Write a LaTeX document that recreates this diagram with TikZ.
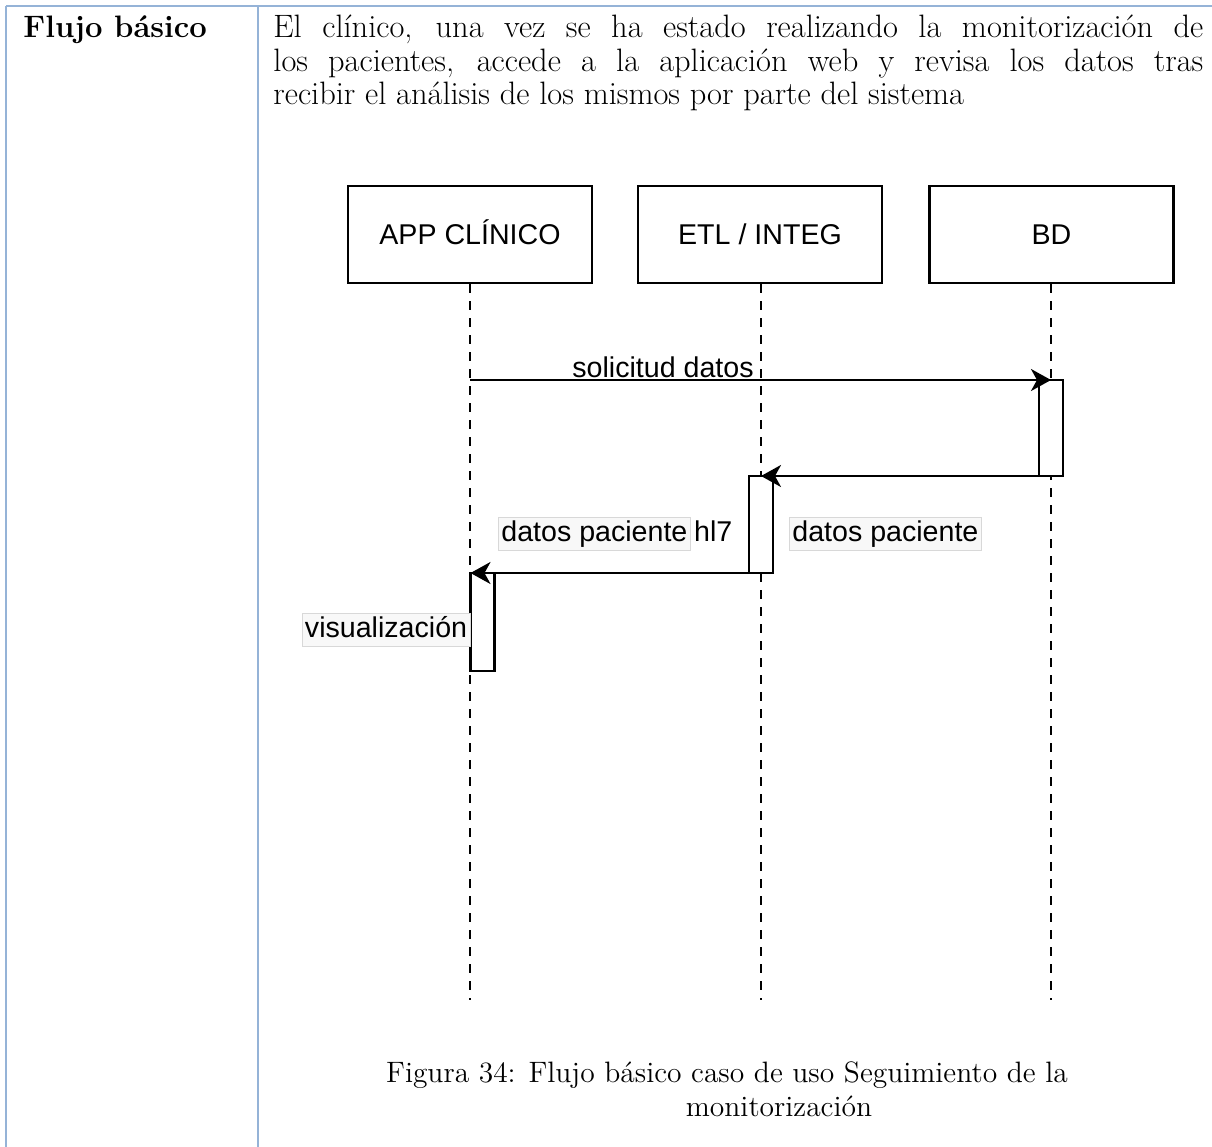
\documentclass[tikz,border=0pt]{standalone}
\usepackage{fontspec}
\newfontfamily\diagfont{Liberation Sans}
\usetikzlibrary{arrows.meta}
\definecolor{tableblue}{HTML}{95B3D7}
\definecolor{lblfill}{HTML}{F8F8F8}
\definecolor{lbledge}{HTML}{D8D8D8}
\begin{document}
\begin{tikzpicture}[x=0.5pt,y=-0.5pt,
  grid/.style={draw=tableblue,line width=1pt},
  bodytext/.style={anchor=base west,inner sep=0pt,font=\fontsize{16.2}{19}\selectfont},
  captext/.style={anchor=base,inner sep=0pt,font=\fontsize{14.75}{17}\selectfont},
  actor/.style={draw,line width=1.2pt,minimum width=122pt,minimum height=48.5pt,inner sep=0pt,
    text height=10.3pt,text depth=0pt,font=\diagfont\fontsize{14.3}{17}\selectfont},
  lifeline/.style={line width=1pt,dash pattern=on 4.5pt off 4pt},
  act/.style={draw,fill=white,line width=1.2pt,minimum width=12pt,inner sep=0pt,outer sep=0pt},
  msg/.style={draw,line width=1.2pt,-{Stealth[length=10pt,width=11pt,inset=3pt]}},
  lbl/.style={fill=lblfill,draw=lbledge,line width=0.4pt,inner xsep=1.5pt,inner ysep=1.5pt,
    text height=10.5pt,text depth=3pt,font=\diagfont\fontsize{14.3}{17}\selectfont},
  plain/.style={inner sep=0pt,font=\diagfont\fontsize{14.3}{17}\selectfont}
]
\useasboundingbox (0,0) rectangle (1212,1147);

% table rules
\draw[grid] (6,6) -- (1212,6);
\draw[grid] (6,6) -- (6,1147);
\draw[grid] (258,6) -- (258,1147);

% table texts
\node[bodytext,font=\bfseries\fontsize{15.5}{18}\selectfont] (head) at (23,37.5) {Flujo básico};
\node[bodytext] (l1) at (273,37.5) {\makebox[465pt][s]{El clínico, una vez se ha estado realizando la monitorización de}};
\node[bodytext] (l2) at (273,71) {\makebox[465pt][s]{los pacientes, accede a la aplicación web y revisa los datos tras}};
\node[bodytext] (l3) at (273,104.5) {recibir el análisis de los mismos por parte del sistema};

% participants
\node[actor] (app) at (470,234.5) {APP CLÍNICO};
\node[actor] (etl) at (760,234.5) {ETL / INTEG};
\node[actor] (bd) at (1051.5,234.5) {BD};

% lifeline ends
\coordinate (append) at (470,1000);
\coordinate (etlend) at (761,1000);
\coordinate (bdend) at (1051,1000);
\draw[lifeline] (app.south) -- (append);
\draw[lifeline] (etl.south -| etlend) -- (etlend);
\draw[lifeline] (bd.south -| bdend) -- (bdend);

% activations
\node[act,minimum height=48pt] (bdact) at (1051,428) {};
\node[act,minimum height=48.5pt] (etlact) at (761,524.5) {};
\node[act,minimum height=49pt] (appact) at (482.5,622) {};

% messages
\coordinate (m1s) at (470,380);
\draw[msg] (m1s) -- (bdact.north);
\draw[msg] (bdact.south east) -- (bdact.south east -| etlact.north);
\draw[msg] (etlact.south east) -- (appact.north west);

% labels
\node[plain] (t1) at (663,367) {solicitud datos};
\node[lbl,anchor=west] (t2) at (789,533.5) {datos paciente};
\node[lbl,anchor=west] (t3) at (498,533.5) {datos paciente};
\node[plain,anchor=base west] (t3b) at ([xshift=1.5pt]t3.base east) {hl7};
\node[lbl,anchor=east] (t4) at (appact.west |- 0,630) {visualización};

% caption
\node[captext] (c1) at (727,1082) {Figura 34: Flujo básico caso de uso Seguimiento de la};
\node[captext] (c2) at (779,1116) {monitorización};
\end{tikzpicture}
\end{document}
